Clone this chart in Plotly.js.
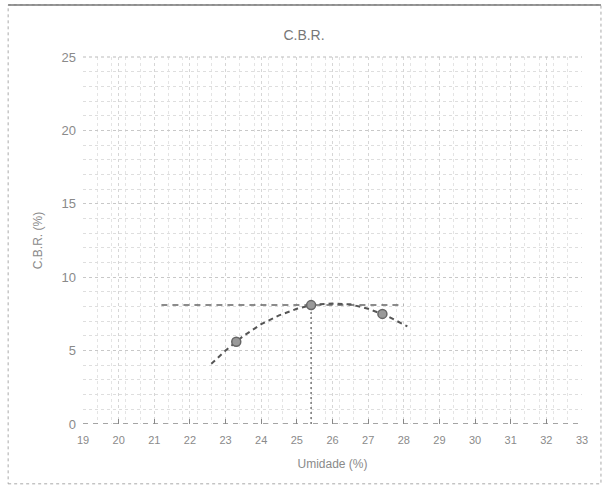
<!DOCTYPE html>
<html>
<head>
<meta charset="utf-8">
<script src="https://cdn.plot.ly/plotly-3.0.1.min.js"></script>
<style>html,body{margin:0;padding:0;background:#fff;}#chart{width:608px;height:488px;}</style>
</head>
<body>
<div id="chart"></div>
<script>
// Measured points
const umidade = [23.3, 25.4, 27.4];
const cbr = [5.6, 8.1, 7.5];
// Trend curve
const curveX = [22.6, 23.0, 23.5, 24.0, 24.5, 25.0, 25.5, 26.0, 26.5, 27.0, 27.5, 28.1];
const curveY = [4.1, 5.0, 6.0, 6.8, 7.4, 7.85, 8.15, 8.2, 8.15, 7.85, 7.4, 6.65];
// Reference lines (optimum moisture / CBR)
const hLineX = [21.2, 28.0];
const hLineY = [8.1, 8.1];
const vLineX = [25.4, 25.4];
const vLineY = [0, 8.1];
const baseX = [19, 33];
const baseY = [0, 0];
const xTicks = [19,20,21,22,23,24,25,26,27,28,29,30,31,32,33];
const yTicks = [0,5,10,15,20,25];

const grey = '#8a8a8a';
const fam = 'Liberation Sans, Arial, sans-serif';

const traces = [
  {x: baseX, y: baseY, mode: 'lines', line: {color: '#888', width: 1.5, dash: '5px,5px'}, hoverinfo: 'skip'},
  {x: hLineX, y: hLineY, mode: 'lines', line: {color: '#666', width: 1.5, dash: '6px,5px'}, hoverinfo: 'skip'},
  {x: vLineX, y: vLineY, mode: 'lines', line: {color: '#777', width: 1.5, dash: '2px,3px'}, hoverinfo: 'skip'},
  {x: curveX, y: curveY, mode: 'lines', line: {color: '#555', width: 2, dash: '5px,4px'}, hoverinfo: 'skip'},
  {x: umidade, y: cbr, mode: 'markers', marker: {size: 9, color: '#999', line: {color: '#666', width: 1.5}}}
];

const layout = {
  width: 608, height: 488,
  margin: {l: 83, r: 26, t: 57, b: 64},
  paper_bgcolor: '#fff', plot_bgcolor: '#fff',
  showlegend: false,
  font: {family: fam, size: 11, color: grey},
  title: {text: 'C.B.R.', font: {family: fam, size: 14, color: '#777'}, x: 0.5, xanchor: 'center', y: 0.928, yanchor: 'middle'},
  xaxis: {
    range: [19, 33], tickvals: xTicks, ticktext: xTicks.map(String),
    showgrid: true, gridcolor: '#d6d6d6', griddash: 'dot', gridwidth: 1,
    minor: {dtick: 0.4, tick0: 19, showgrid: true, gridcolor: '#e4e4e4', griddash: 'dot', gridwidth: 1},
    zeroline: false, showline: false,
    ticks: 'inside', ticklen: 5, tickcolor: '#888',
    ticklabelstandoff: 8,
    tickfont: {family: fam, size: 11, color: grey},
    title: {text: 'Umidade (%)', font: {family: fam, size: 12, color: grey}, standoff: 14}
  },
  yaxis: {
    range: [0, 25], tickvals: yTicks, ticktext: yTicks.map(String),
    showgrid: true, gridcolor: '#c8c8c8', griddash: 'dot', gridwidth: 1,
    minor: {dtick: 1, showgrid: true, gridcolor: '#dedede', griddash: 'dot', gridwidth: 1},
    zeroline: false, showline: false, ticks: '',
    ticklabelstandoff: 6,
    tickfont: {family: fam, size: 13, color: grey},
    title: {text: 'C.B.R. (%)', font: {family: fam, size: 12, color: grey}, standoff: 16}
  },
  shapes: [
    {type: 'rect', xref: 'paper', yref: 'paper', x0: -0.150, x1: 1.038, y0: -0.163, y1: 1.142,
     line: {color: '#aaa', width: 1, dash: 'dot'}, fillcolor: 'rgba(0,0,0,0)', layer: 'below'},
    {type: 'line', xref: 'paper', yref: 'paper', x0: -0.150, x1: 1.038, y0: 1.142, y1: 1.142,
     line: {color: '#777', width: 1.5}},
    {type: 'line', xref: 'paper', yref: 'paper', x0: 0, x1: 1, y0: 1, y1: 1,
     line: {color: '#bbb', width: 1, dash: 'dot'}}
  ]
};

Plotly.newPlot('chart', traces, layout, {displayModeBar: false, staticPlot: true});
</script>
</body>
</html>
